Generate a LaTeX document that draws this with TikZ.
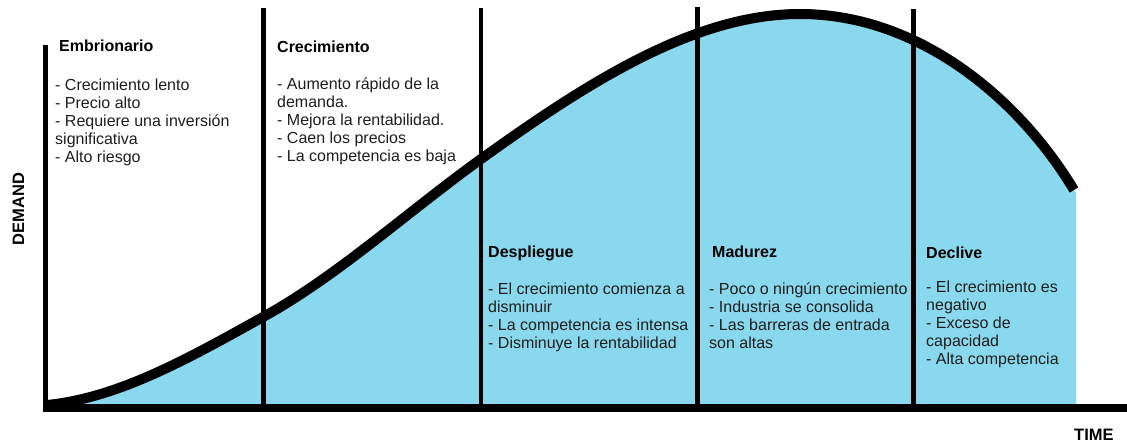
\documentclass[tikz,border=0pt]{standalone}
\usepackage{fontspec}
\setmainfont{Liberation Sans}
\definecolor{fillblue}{RGB}{137,216,237}
\definecolor{txt}{RGB}{30,30,30}
\begin{document}
\begin{tikzpicture}[x=1pt,y=-1pt,
  head/.style={anchor=base west, inner sep=0pt, font=\fontsize{16}{18}\selectfont\bfseries, text=black},
  items/.style={anchor=north west, inner sep=0pt, align=left, font=\fontsize{16}{18}\selectfont, text=txt},
  axislabel/.style={inner sep=0pt, font=\fontsize{16.5}{18}\selectfont\bfseries, text=black},
  vline/.style={line width=4.8pt},
  curveline/.style={line width=10pt, line join=round}]
\useasboundingbox (0,0) rectangle (1127,442);

% coordinates
\coordinate (o) at (45.5,408);
\coordinate (ytop) at (45.5,45);
\coordinate (xend) at (1127,408);
\coordinate (xstart) at (43,408);
\coordinate (v1t) at (263.5,8);   \coordinate (v1b) at (263.5,406);
\coordinate (v2t) at (481,8);     \coordinate (v2b) at (481,406);
\coordinate (v3t) at (697.5,7);   \coordinate (v3b) at (697.5,406);
\coordinate (v4t) at (913.5,9);   \coordinate (v4b) at (913.5,406);

% curve points
\coordinate (c0) at (47,405);
\coordinate (c1) at (263,317);
\coordinate (c2) at (481,159);
\coordinate (c3) at (800,14);
\coordinate (c4) at (1074,190);

% fill under curve
\fill[fillblue] (c0) .. controls (119,398) and (191,357) .. (c1)
  .. controls (336,277) and (408,211.6) .. (c2)
  .. controls (587,83) and (694,14) .. (c3)
  .. controls (920,14) and (1020,100) .. (c4)
  -- (1076,193) -- (1076,406) -- (47,406) -- cycle;

% curve
\draw[curveline] (c0) .. controls (119,398) and (191,357) .. (c1)
  .. controls (336,277) and (408,211.6) .. (c2)
  .. controls (587,83) and (694,14) .. (c3)
  .. controls (920,14) and (1020,100) .. (c4);

% vertical separators
\draw[vline] (v1t) -- (v1b);
\draw[vline] (v2t) -- (v2b);
\draw[vline] (v3t) -- (v3b);
\draw[vline] (v4t) -- (v4b);

% axes
\draw[line width=5pt] (ytop) -- (o);
\draw[line width=8.5pt] (xstart) -- (xend);

% axis labels
\node[axislabel, rotate=90] (demand) at (18.5,209) {DEMAND};
\node[axislabel, anchor=base west] (time) at (1074,440) {TIME};

% Embrionario
\node[head] (h1) at (59,51) {Embrionario};
\node[items] (t1) at (55,78) {\rule{0pt}{12pt}- Crecimiento lento\\- Precio alto\\- Requiere una inversión\\significativa\\- Alto riesgo};

% Crecimiento
\node[head] (h2) at (277,52) {Crecimiento};
\node[items] (t2) at (277,77) {\rule{0pt}{12pt}- Aumento rápido de la\\demanda.\\- Mejora la rentabilidad.\\- Caen los precios\\- La competencia es baja};

% Despliegue
\node[head] (h3) at (488,257) {Despliegue};
\node[items] (t3) at (488,282) {\rule{0pt}{12pt}- El crecimiento comienza a\\disminuir\\- La competencia es intensa\\- Disminuye la rentabilidad};

% Madurez
\node[head] (h4) at (712,257) {Madurez};
\node[items] (t4) at (709,282) {\rule{0pt}{12pt}- Poco o ningún crecimiento\\- Industria se consolida\\- Las barreras de entrada\\son altas};

% Declive
\node[head] (h5) at (926,258) {Declive};
\node[items] (t5) at (926,280) {\rule{0pt}{12pt}- El crecimiento es\\negativo\\- Exceso de\\capacidad\\- Alta competencia};
\end{tikzpicture}
\end{document}
